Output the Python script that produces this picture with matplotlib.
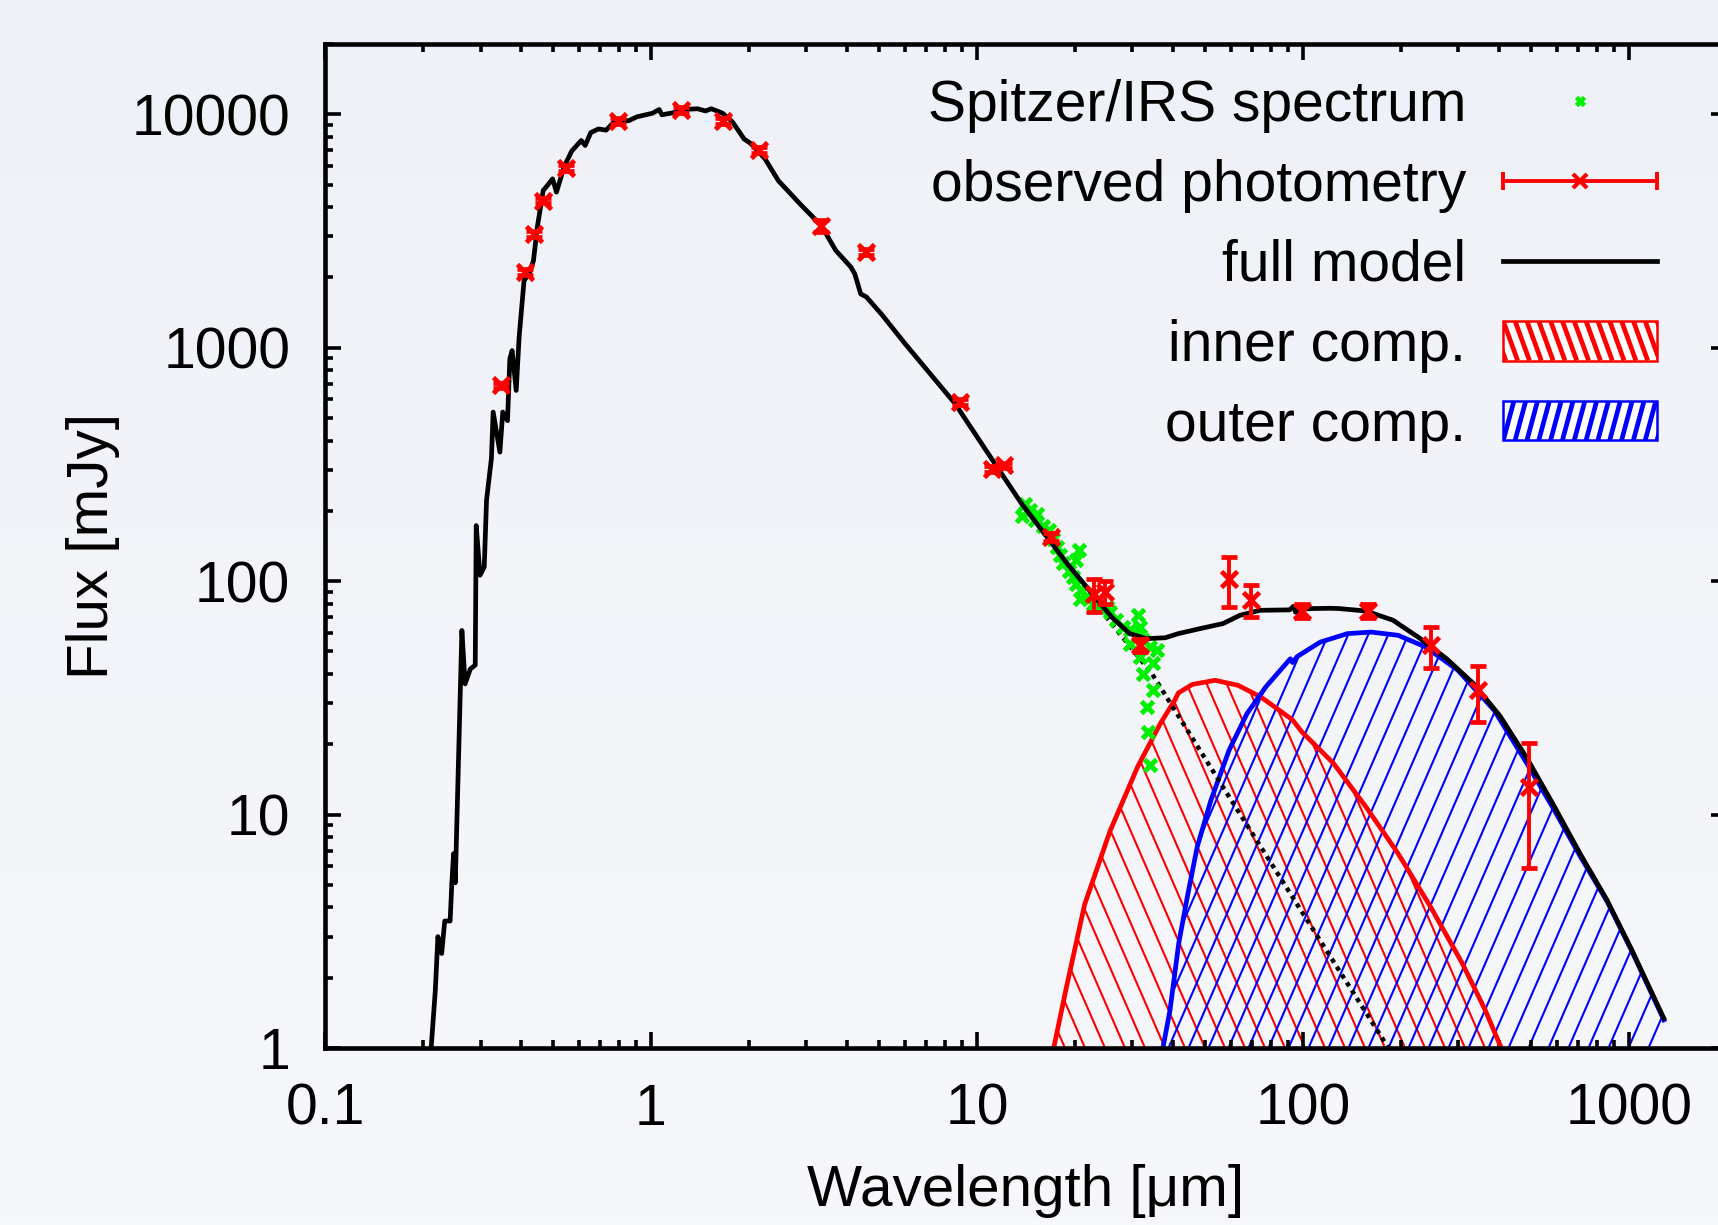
import numpy as np
import matplotlib
matplotlib.use('Agg')
import matplotlib.pyplot as plt
import matplotlib.transforms as mtransforms
from matplotlib.collections import LineCollection
from matplotlib.colors import LinearSegmentedColormap
from matplotlib.lines import Line2D
from matplotlib.patches import Patch, Rectangle
from matplotlib.legend_handler import HandlerBase, HandlerLine2D
from matplotlib.ticker import FuncFormatter, LogLocator, NullFormatter

plt.rcParams['font.family'] = ['Liberation Sans', 'DejaVu Sans']
plt.rcParams['font.size'] = 41

# full model (star + inner + outer)
model_wl = [0.212, 0.218, 0.222, 0.228, 0.233, 0.242, 0.245, 0.248, 0.251, 0.263,
            0.269, 0.279, 0.289, 0.291, 0.299, 0.308, 0.313, 0.324, 0.328, 0.344,
            0.351, 0.363, 0.369, 0.375, 0.386, 0.394, 0.408, 0.424, 0.436, 0.448,
            0.467, 0.486, 0.499, 0.513, 0.541, 0.571, 0.611, 0.628, 0.654, 0.690,
            0.729, 0.769, 0.857, 0.905, 1.01, 1.06, 1.08, 1.185, 1.25, 1.39,
            1.47, 1.53, 1.595, 1.66, 1.78, 1.93, 2.03, 2.24, 2.46, 2.74,
            2.89, 3.33, 3.69, 4.10, 4.22, 4.40, 4.58, 5.10, 6.02, 8.56,
            11.5, 13.7, 16.1, 18.9, 22.1, 25.9, 29.4, 33.2, 37.8, 41.5,
            48.6, 56.9, 64.1, 73.8, 91.0, 93.5, 95.0, 97.0, 107, 121,
            129, 156, 189, 228, 276, 333, 402, 486, 587, 708,
            857, 1021, 1280]
model_flux = [1.03, 1.77, 3.0, 2.54, 3.5, 3.5, 5.1, 6.8, 5.1, 61.5,
              36.3, 42, 43.7, 173, 106, 115, 222, 336, 530, 357,
              530, 487, 896, 972, 656, 1109, 1940, 2090, 2360, 3280,
              4710, 5040, 5290, 4640, 5940, 6950, 7720, 7350, 8350, 8650,
              8550, 9260, 9400, 9750, 10100, 10480, 9950, 10180, 10480, 10560,
              10330, 10560, 10330, 10100, 9260, 7840, 7470, 6430, 5190, 4420,
              4080, 3337, 2608, 2220, 2070, 1700, 1650, 1390, 1040, 577,
              310, 215, 160, 119, 91.4, 70.2, 59.6, 56.7, 57.2, 59.6,
              62.7, 65.8, 71.4, 75.0, 75.3, 78.0, 73.5, 75.8, 76.3, 76.5,
              76.3, 74.5, 68.0, 57.0, 46.5, 36.5, 26.5, 17.5, 11.0, 6.81,
              4.30, 2.63, 1.34]

# stellar photosphere (dotted)
star_wl = [20.2, 34.4, 56.9, 94.2, 183]
star_flux = [101, 40.2, 13.1, 4.3, 1.0]

# inner dust component
inner_wl = [17.2, 18.8, 21.4, 25.6, 31.1, 36.5, 40.5, 41.5, 45.8, 53.8,
            63.2, 74.3, 90.3, 93.0, 99.3, 124, 156, 196, 246, 308, 362, 406]
inner_flux = [1.0, 1.81, 4.12, 8.49, 16.0, 24.5, 31.0, 33.2, 36.1, 37.6,
              35.8, 31.9, 26.2, 25.4, 22.6, 16.6, 10.8, 6.8, 4.04, 2.31, 1.46, 1.0]

# outer dust component
outer_wl = [37.2, 39.1, 41.6, 44.4, 47.4, 52.2, 59.4, 67.4, 76.9, 89.0,
            91.5, 93.0, 96.0, 113, 137, 162, 196, 238, 299, 386,
            486, 587, 708, 857, 1021, 1280]
outer_flux = [1.0, 1.45, 2.81, 4.59, 7.27, 11.5, 18.9, 27.1, 35.2, 44.5,
              46.5, 44.8, 47.5, 54.8, 59.6, 60.5, 58.6, 52.2, 41.5, 28.0,
              16.6, 10.6, 6.65, 4.25, 2.6, 1.32]

# Spitzer/IRS spectrum
irs_wl = [14.0, 13.7, 14.5, 15.3, 15.1, 16.0, 16.6, 17.1, 17.6, 18.0,
          18.4, 19.1, 20.5, 20.2, 19.7, 20.2, 20.9, 20.7, 21.7, 22.7,
          23.8, 25.0, 25.6, 26.8, 28.1, 29.5, 31.2, 31.6, 30.9, 32.4,
          33.9, 35.6, 29.5, 31.6, 34.7, 32.4, 34.7, 33.2, 33.5, 33.9]
irs_flux = [215, 191, 201, 194, 182, 173, 165, 152, 140, 129,
            119, 111, 136, 123, 104, 97.5, 91.4, 84.2, 85.5, 80.1,
            77.5, 77.5, 73.8, 68.0, 63.6, 61.5, 71.4, 63.6, 57.6, 55.8,
            52.3, 50.6, 54.0, 47.3, 44.4, 40.2, 34.1, 28.9, 22.6, 16.3]

# observed photometry
phot_wl = [0.346, 0.411, 0.438, 0.467, 0.548, 0.79, 1.234, 1.66, 2.15, 3.33,
           4.58, 8.9, 11.1, 12.1, 16.9, 22.8, 24.7, 31.6, 59.4, 69.2,
           99.1, 158.6, 247, 345, 493]
phot_flux = [689, 2105, 3070, 4270, 5890, 9390, 10430, 9390, 7030, 3337,
             2565, 585, 301, 313, 155, 88, 90, 53.1, 102.5, 83,
             74.5, 74.5, 53, 34.1, 13.1]
phot_err = [20, 60, 90, 120, 170, 280, 310, 280, 210, 200,
            80, 18, 9, 9, 6, 14, 10, 3.5, 25, 13,
            5, 5, 10.7, 9.3, 7.2]

FW, FH = 1718, 1225
fig = plt.figure(figsize=(FW / 100, FH / 100), dpi=100)

# soft background gradient
bg = fig.add_axes([0, 0, 1, 1], zorder=-10)
bg_cmap = LinearSegmentedColormap.from_list('bg', ['#eef1f7', '#f7f8fb'])
bg.imshow(np.linspace(0, 1, 256).reshape(-1, 1), aspect='auto', cmap=bg_cmap,
          extent=[0, 1, 0, 1], origin='upper')
bg.axis('off')

ax_rect = [325 / FW, 1 - 1048 / FH, (1727 - 325) / FW, (1048 - 44) / FH]
ax = fig.add_axes(ax_rect)
ax.set_facecolor('none')
ax.set_xscale('log')
ax.set_yscale('log')
ax.set_xlim(0.1, 2000)
ax.set_ylim(1, 20000)

AW, AH = ax_rect[2] * FW, ax_rect[3] * FH


def hatch_fill(x, y, color, slope, step, lw=1.5):
    poly = ax.fill_between(x, 1, y, facecolor='none', edgecolor='none')
    dx = AH / abs(slope)
    segs = []
    for x0 in np.arange(-dx - step, AW + dx + step, step):
        if slope > 0:
            segs.append([(x0, 0), (x0 + dx, AH)])
        else:
            segs.append([(x0, AH), (x0 + dx, 0)])
    tr = mtransforms.Affine2D().scale(1 / AW, 1 / AH) + ax.transAxes
    lc = LineCollection(segs, colors=color, linewidths=lw, transform=tr, zorder=1)
    ax.add_collection(lc, autolim=False)
    lc.set_clip_path(poly.get_paths()[0], ax.transData)


hatch_fill(inner_wl, inner_flux, '#ff0000', -2.3, 20)
hatch_fill(outer_wl, outer_flux, '#0000ff', 2.3, 20)
ax.plot(inner_wl, inner_flux, color='#ff0000', lw=3.4, zorder=2)
ax.plot(outer_wl, outer_flux, color='#0000ff', lw=3.4, zorder=2)
ax.plot(star_wl, star_flux, color='black', lw=3.2, ls=(0, (1, 1.1)), zorder=3)
ax.plot(irs_wl, irs_flux, 'x', color='#00f000', ms=8, mew=3.6, zorder=4)
ax.plot(model_wl, model_flux, color='black', lw=3.4, zorder=5)
ax.errorbar(phot_wl, phot_flux, yerr=phot_err, fmt='x', color='#ff0000', ms=11,
            mew=3.4, elinewidth=2.8, capsize=6, capthick=2.8, zorder=6)

# axes styling
for s in ax.spines.values():
    s.set_linewidth(3.3)
ax.set_xticks([0.1, 1, 10, 100, 1000])
ax.set_yticks([1, 10, 100, 1000, 10000])
ax.xaxis.set_minor_locator(LogLocator(base=10, subs=range(2, 10), numticks=50))
ax.yaxis.set_minor_locator(LogLocator(base=10, subs=range(2, 10), numticks=50))
ax.xaxis.set_minor_formatter(NullFormatter())
ax.yaxis.set_minor_formatter(NullFormatter())
fmt = FuncFormatter(lambda v, p: '%g' % v)
ax.xaxis.set_major_formatter(fmt)
ax.yaxis.set_major_formatter(fmt)
ax.set_xlim(0.1, 2000)
ax.set_ylim(1, 20000)
ax.tick_params(which='both', direction='in', top=True, right=True, width=2.6, pad=25)
ax.tick_params(which='major', length=11.5)
ax.tick_params(which='minor', length=5.8)
ax.set_xlabel('Wavelength [μm]', labelpad=20, fontsize=42)
ax.set_ylabel('Flux [mJy]', labelpad=8, fontsize=42)


class HatchHandler(HandlerBase):
    def __init__(self, color, slope, n):
        super().__init__()
        self.color, self.slope, self.n = color, slope, n

    def create_artists(self, legend, orig_handle, xdescent, ydescent,
                       width, height, fontsize, trans):
        x0, y0 = -xdescent, -ydescent
        rect = Rectangle((x0, y0), width, height, facecolor='white',
                         edgecolor=self.color, lw=1.8, transform=trans)
        step = width / self.n
        dx = height / abs(self.slope)
        segs = []
        for k in range(-4, self.n + 4):
            xa = x0 + k * step
            if self.slope > 0:
                segs.append([(xa, y0), (xa + dx, y0 + height)])
            else:
                segs.append([(xa, y0 + height), (xa + dx, y0)])
        lc = LineCollection(segs, colors=self.color, linewidths=3.4, transform=trans)
        lc.set_clip_path(rect)
        return [rect, lc]


h_irs = Line2D([], [], ls='none', marker='x', color='#00f000', ms=6, mew=3.4)
h_cap = Line2D([], [], color='#ff0000', lw=2.8, marker='|', ms=13, mew=2.8)
h_x = Line2D([], [], ls='none', color='#ff0000', marker='x', ms=10, mew=3)
h_model = Line2D([], [], color='black', lw=3.4)
h_inner = Patch()
h_outer = Patch()
ax.legend([h_irs, (h_cap, h_x), h_model, h_inner, h_outer],
          ['Spitzer/IRS spectrum', 'observed photometry', 'full model',
           'inner comp.', 'outer comp.'],
          handler_map={h_cap: HandlerLine2D(numpoints=2, marker_pad=0),
                       h_x: HandlerLine2D(numpoints=1),
                       h_irs: HandlerLine2D(numpoints=1),
                       h_inner: HatchHandler('#ff0000', -2.75, 13),
                       h_outer: HatchHandler('#0000ff', 3.7, 13)},
          loc='upper right', bbox_to_anchor=(1657 / FW, 1 - 79 / FH),
          bbox_transform=fig.transFigure, frameon=False, markerfirst=False,
          borderpad=0, borderaxespad=0, handlelength=2.7, handleheight=0.69,
          handletextpad=0.65, labelspacing=0.455, fontsize=41)

fig.savefig('out.png', dpi=100)
